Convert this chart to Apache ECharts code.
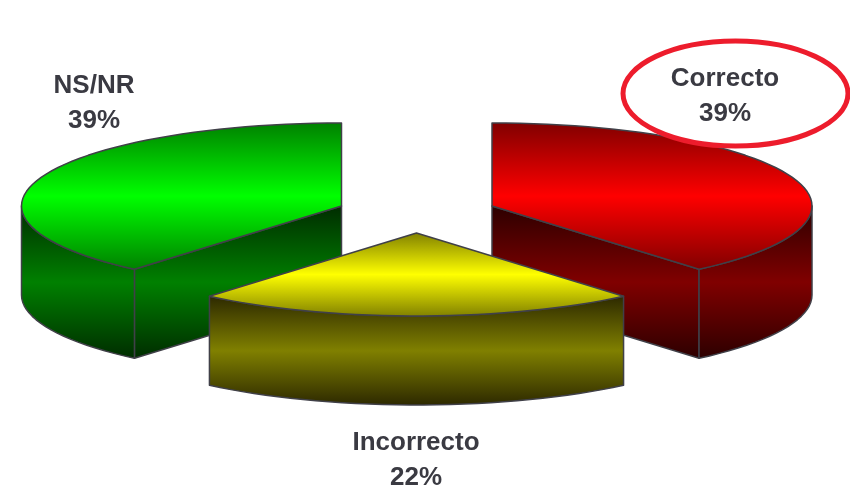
<!DOCTYPE html>
<html>
<head>
<meta charset="utf-8">
<style>html,body{margin:0;padding:0;background:#fff}#c{width:850px;height:486px}</style>
<script src="https://cdn.jsdelivr.net/npm/echarts@6/dist/echarts.min.js"></script>
</head>
<body>
<div id="c"></div>
<script>
const categories = ['Correcto', 'Incorrecto', 'NS/NR'];
const shares = [38.8, 22.4, 38.8];

const centers = [[492, 206], [416.5, 233], [341.5, 206]];
const labelCenters = [[725, 96.5], [416, 460.5], [94, 103]];
const topColors = [['#800000', '#ff0000'], ['#808000', '#ffff00'], ['#008000', '#00ff00']];
const wallColors = [['#2c0000', '#800000'], ['#2c2800', '#808000'], ['#002c00', '#008000']];
const drawOrder = [1, 3, 2];
const RX = 320, RY = 83, DEPTH = 89, EDGE = '#404048';

const total = shares.reduce((a, b) => a + b, 0);
function grad(c) {
  return new echarts.graphic.LinearGradient(0, 0, 0, 1, [
    { offset: 0, color: c[0] }, { offset: 0.5, color: c[1] }, { offset: 1, color: c[0] }
  ]);
}
function pt(c, deg, dy) {
  const t = deg * Math.PI / 180;
  return [c[0] + RX * Math.sin(t), c[1] - RY * Math.cos(t) + (dy || 0)];
}
function arc(c, a, b, dy) {
  const out = [], n = Math.max(2, Math.ceil((b - a) / 2.5));
  for (let i = 0; i <= n; i++) out.push(pt(c, a + (b - a) * i / n, dy));
  return out;
}
function renderSlice(params, api) {
  const i = params.dataIndex;
  const value = api.value(0);
  let before = 0;
  for (let k = 0; k < i; k++) before += shares[k];
  const a = before / total * 360, b = a + value / total * 360;
  const c = centers[i], z = drawOrder[i] * 10;
  const lineStyle = { stroke: EDGE, lineWidth: 1.5, lineJoin: 'round' };
  const children = [];
  const wall = pts => children.push({
    type: 'polygon', z2: z, shape: { points: pts },
    style: Object.assign({ fill: grad(wallColors[i]) }, lineStyle)
  });
  const radial = deg => wall([c, pt(c, deg), pt(c, deg, DEPTH), [c[0], c[1] + DEPTH]]);
  if (a > 180 && a < 360) radial(a);
  if (b > 0 && b < 180) radial(b);
  const wa = Math.max(a, 90), wb = Math.min(b, 270);
  if (wb > wa) wall(arc(c, wa, wb, 0).concat(arc(c, wa, wb, DEPTH).reverse()));
  children.push({
    type: 'polygon', z2: z + 1, shape: { points: [c].concat(arc(c, a, b, 0)) },
    style: Object.assign({ fill: grad(topColors[i]) }, lineStyle)
  });
  children.push({
    type: 'text', z2: 100, x: labelCenters[i][0], y: labelCenters[i][1],
    style: {
      text: categories[i] + '\n' + Math.round(value) + '%',
      fontFamily: '"Liberation Sans", Arial, sans-serif', fontWeight: 'bold', fontSize: 26,
      lineHeight: 35, fill: '#3a3a42', align: 'center', verticalAlign: 'middle'
    }
  });
  return { type: 'group', children };
}

const chart = echarts.init(document.getElementById('c'), null, { renderer: 'canvas' });
chart.setOption({
  animation: false,
  backgroundColor: '#ffffff',
  series: [{
    type: 'custom',
    coordinateSystem: 'none',
    renderItem: renderSlice,
    data: shares.map(v => [v]),
    silent: true
  }],
  graphic: [{
    type: 'ellipse', z: 50, silent: true,
    shape: { cx: 735.5, cy: 93.5, rx: 112.5, ry: 52.5 },
    style: { fill: 'none', stroke: '#ed1c2c', lineWidth: 5 }
  }]
});
</script>
</body>
</html>
